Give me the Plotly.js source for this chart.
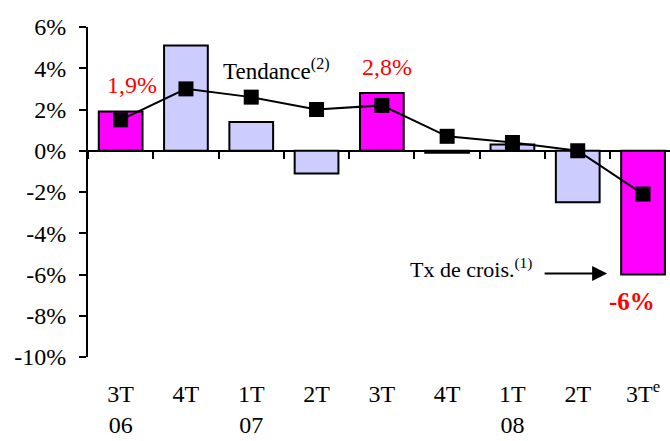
<!DOCTYPE html>
<html><head><meta charset="utf-8">
<script src="https://cdn.plot.ly/plotly-3.0.1.min.js"></script>
<style>html,body{margin:0;padding:0;background:#fff}#chart{width:670px;height:441px}</style>
</head><body><div id="chart"></div>
<script>
const categories = ['3T 06','4T 06','1T 07','2T 07','3T 07','4T 07','1T 08','2T 08','3T 08'];
const tickLabels = ['3T<br>06','4T<br> ','1T<br>07','2T<br> ','3T<br> ','4T<br> ','1T<br>08','2T<br> ','3T<sup>e</sup><br> '];
const growth = [1.9, 5.1, 1.4, -1.1, 2.8, -0.1, 0.3, -2.5, -6.0];
const trend = [1.5, 3.0, 2.6, 2.0, 2.2, 0.7, 0.4, 0.0, -2.1];
const barColors = ['#FF00FF','#CCCCFF','#CCCCFF','#CCCCFF','#FF00FF','#CCCCFF','#CCCCFF','#CCCCFF','#FF00FF'];
const yTickVals = [-10,-8,-6,-4,-2,0,2,4,6];
const yTickText = yTickVals.map(v => v + '%');

const font = {family: 'Liberation Serif, Times New Roman, serif', color: '#000'};
const xr = [-0.5, 8.413];

const data = [
  {type: 'bar', x: categories, y: growth, xaxis: 'x', yaxis: 'y',
   marker: {color: barColors, line: {color: '#000', width: 2}}, hoverinfo: 'skip'},
  {type: 'scatter', mode: 'lines+markers', x: categories, y: trend, xaxis: 'x2', yaxis: 'y',
   line: {color: '#000', width: 2}, marker: {symbol: 'square', size: 15, color: '#000'}, hoverinfo: 'skip'}
];

const layout = {
  width: 670, height: 441,
  margin: {l: 88, r: 0, t: 27, b: 84},
  paper_bgcolor: '#fff', plot_bgcolor: '#fff',
  showlegend: false, bargap: 0.33,
  font: Object.assign({size: 24}, font),
  xaxis: {type: 'category', categoryarray: categories, range: xr, anchor: 'free', position: 10/16,
    showline: false, showgrid: false, zeroline: false, showticklabels: false,
    tickson: 'boundaries', ticks: 'outside', ticklen: 7, tickwidth: 2, tickcolor: '#000'},
  xaxis2: {type: 'category', categoryarray: categories, range: xr, overlaying: 'x', anchor: 'y', side: 'bottom',
    showline: false, showgrid: false, zeroline: false,
    tickmode: 'array', tickvals: categories, ticktext: tickLabels,
    ticks: 'outside', ticklen: 15, tickcolor: 'rgba(0,0,0,0)',
    tickfont: Object.assign({size: 24}, font)},
  yaxis: {range: [-10, 6], tickmode: 'array', tickvals: yTickVals, ticktext: yTickText,
    showline: true, linecolor: '#000', linewidth: 2, showgrid: false,
    zeroline: true, zerolinecolor: '#000', zerolinewidth: 2,
    ticks: 'outside', ticklen: 7, tickwidth: 2, tickcolor: '#000', ticklabelstandoff: 8,
    tickfont: Object.assign({size: 24}, font)},
  annotations: [
    {x: 0.17, y: 3.2, xref: 'x', yref: 'y', text: '1,9%', showarrow: false, font: Object.assign({}, font, {size: 24, color: '#FF0000'})},
    {x: 4.08, y: 4.05, xref: 'x', yref: 'y', text: '2,8%', showarrow: false, font: Object.assign({}, font, {size: 24, color: '#FF0000'})},
    {x: 2.38, y: 3.95, xref: 'x', yref: 'y', text: 'Tendance<sup>(2)</sup>', showarrow: false, font: Object.assign({}, font, {size: 23})},
    {x: 5.37, y: -5.7, xref: 'x', yref: 'y', text: 'Tx de crois.<sup>(1)</sup>', showarrow: false, font: Object.assign({}, font, {size: 22})},
    {x: 7.45, y: -5.95, xref: 'x', yref: 'y', text: '', showarrow: true, arrowhead: 2, arrowsize: 1.5, arrowwidth: 2, arrowcolor: '#000', ax: -64, ay: 0},
    {x: 7.83, y: -7.3, xref: 'x', yref: 'y', text: '<b>-6%</b>', showarrow: false, font: Object.assign({}, font, {size: 25, color: '#FF0000'})}
  ]
};

Plotly.newPlot('chart', data, layout, {staticPlot: true, displayModeBar: false});
</script>
</body></html>
